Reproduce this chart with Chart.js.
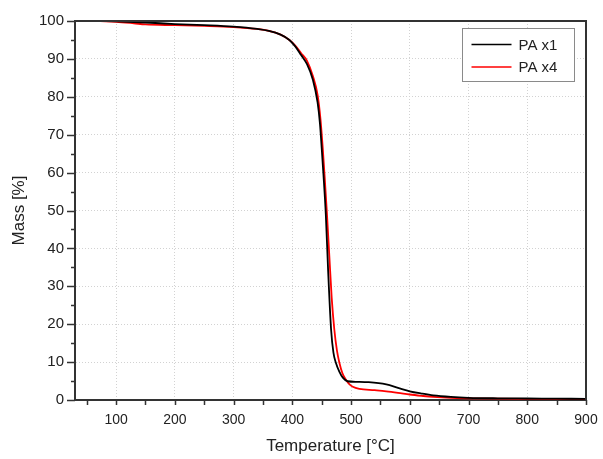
<!DOCTYPE html>
<html>
<head>
<meta charset="utf-8">
<script src="https://cdn.jsdelivr.net/npm/chart.js@4.4.0/dist/chart.umd.min.js"></script>
<style>
  html, body { margin: 0; padding: 0; background: #fff; }
  #chart { display: block; }
</style>
</head>
<body>
<canvas id="chart" width="603" height="459"></canvas>
<script>
// PA x1 (black)
var tempX1 = [73, 100, 150, 200, 250, 300, 340, 360, 380, 395, 405, 415, 425, 435, 443, 447, 450, 453, 457, 461, 466, 470, 474, 480, 486, 494, 510, 530, 560, 580, 600, 620, 640, 670, 700, 750, 800, 850, 900];
var massX1 = [100, 99.9, 99.6, 99.2, 98.9, 98.5, 97.9, 97.4, 96.4, 95, 93.3, 91, 88.6, 84.5, 78.5, 73, 66.5, 59.5, 49, 34, 18.6, 12.5, 9.9, 7.5, 5.9, 4.95, 4.8, 4.7, 4.1, 3.2, 2.3, 1.7, 1.2, 0.8, 0.58, 0.45, 0.4, 0.35, 0.3];

// PA x4 (red)
var tempX4 = [73, 100, 130, 150, 200, 250, 300, 340, 360, 380, 395, 405, 415, 425, 435, 443, 448, 452, 455, 459, 463, 467, 471.5, 476, 480, 485, 491, 497, 503, 514, 540, 560, 580, 600, 620, 640, 670, 700, 750, 800, 850, 900];
var massX4 = [100, 99.8, 99.4, 99.1, 98.9, 98.7, 98.4, 97.9, 97.4, 96.4, 95, 93.5, 91.5, 89.5, 85.5, 80.5, 74, 66, 59, 49, 38, 27, 18.6, 13, 9.9, 7.2, 5.4, 4.2, 3.5, 2.95, 2.6, 2.3, 1.9, 1.45, 1.1, 0.8, 0.55, 0.45, 0.35, 0.3, 0.3, 0.3];

var xTickValues = [100, 200, 300, 400, 500, 600, 700, 800, 900];
var xMinorTicks = [50, 150, 250, 350, 450, 550, 650, 750, 850];
var yTickValues = [0, 10, 20, 30, 40, 50, 60, 70, 80, 90, 100];
var yMinorTicks = [5, 15, 25, 35, 45, 55, 65, 75, 85, 95];

var FONT = "'Liberation Sans', Arial, sans-serif";
var AXIS = '#333';

function toPoints(xs, ys) {
    var pts = [];
    for (var i = 0; i < xs.length; i++) pts.push({x: xs[i], y: ys[i]});
    return pts;
}

// tick marks, top/right frame and the boxed legend inside the plot
var framePlugin = {
    id: 'frame',
    afterDraw: function (chart) {
        var ctx = chart.ctx, a = chart.chartArea;
        var xs = chart.scales.x, ys = chart.scales.y;
        ctx.save();
        ctx.strokeStyle = AXIS;
        ctx.lineWidth = 2;
        ctx.beginPath();
        ctx.moveTo(a.left - 1, a.top);
        ctx.lineTo(a.right, a.top);
        ctx.lineTo(a.right, a.bottom);
        ctx.stroke();

        ctx.lineWidth = 1.5;
        ctx.beginPath();
        xTickValues.concat(xMinorTicks).forEach(function (v) {
            var px = Math.round(xs.getPixelForValue(v)) + 0.5;
            ctx.moveTo(px, a.bottom);
            ctx.lineTo(px, a.bottom + 5);
        });
        yTickValues.forEach(function (v) {
            var py = Math.round(ys.getPixelForValue(v)) + 0.5;
            ctx.moveTo(a.left, py);
            ctx.lineTo(a.left - 8, py);
        });
        yMinorTicks.forEach(function (v) {
            var py = Math.round(ys.getPixelForValue(v)) + 0.5;
            ctx.moveTo(a.left, py);
            ctx.lineTo(a.left - 4, py);
        });
        ctx.stroke();

        // legend
        var bx = a.right - 123.5, by = a.top + 7.5, bw = 112, bh = 53;
        ctx.fillStyle = '#fff';
        ctx.fillRect(bx, by, bw, bh);
        ctx.strokeStyle = '#8a8a8a';
        ctx.lineWidth = 1;
        ctx.strokeRect(bx, by, bw, bh);
        ctx.font = '15px ' + FONT;
        ctx.textBaseline = 'middle';
        chart.data.datasets.forEach(function (ds, i) {
            var ly = by + 16 + i * 22.5;
            ctx.strokeStyle = ds.borderColor;
            ctx.lineWidth = 1.5;
            ctx.beginPath();
            ctx.moveTo(bx + 9, ly);
            ctx.lineTo(bx + 49, ly);
            ctx.stroke();
            ctx.fillStyle = '#222';
            ctx.fillText(ds.label, bx + 56, ly + 1);
        });
        ctx.restore();
    }
};

var ctx = document.getElementById('chart').getContext('2d');
var myChart = new Chart(ctx, {
    type: 'line',
    data: {
        datasets: [
            {
                label: 'PA x1',
                data: toPoints(tempX1, massX1),
                borderColor: '#000000',
                borderWidth: 1.8,
                pointRadius: 0,
                cubicInterpolationMode: 'monotone',
                fill: false
            },
            {
                label: 'PA x4',
                data: toPoints(tempX4, massX4),
                borderColor: '#ff0000',
                borderWidth: 1.8,
                pointRadius: 0,
                cubicInterpolationMode: 'monotone',
                fill: false
            }
        ]
    },
    options: {
        responsive: false,
        animation: false,
        layout: { padding: { top: 21, right: 17, left: 0, bottom: 0 } },
        plugins: {
            legend: { display: false },
            tooltip: { enabled: false }
        },
        scales: {
            x: {
                type: 'linear',
                min: 30,
                max: 900,
                afterBuildTicks: function (s) {
                    s.ticks = xTickValues.map(function (v) { return {value: v}; });
                },
                afterFit: function (s) {
                    s.height = 59;
                    s.paddingLeft = 0;
                    s.paddingRight = 0;
                },
                ticks: {
                    padding: 12,
                    autoSkip: false,
                    maxRotation: 0,
                    color: '#222',
                    font: { family: FONT, size: 14 }
                },
                grid: {
                    drawTicks: false,
                    lineWidth: 1,
                    color: function (c) {
                        return (c.tick && c.tick.value === 900) ? 'rgba(0,0,0,0)' : '#d2d2d2';
                    }
                },
                border: { display: true, color: AXIS, width: 2, dash: [1, 2] },
                title: {
                    display: true,
                    text: 'Temperature [°C]',
                    color: '#222',
                    font: { family: FONT, size: 17 },
                    padding: { top: 0, bottom: 2 }
                }
            },
            y: {
                type: 'linear',
                min: 0,
                max: 100,
                afterBuildTicks: function (s) {
                    s.ticks = yTickValues.map(function (v) { return {value: v}; });
                },
                afterFit: function (s) {
                    s.width = 75;
                    s.paddingTop = 0;
                    s.paddingBottom = 0;
                },
                ticks: {
                    padding: 11,
                    color: '#222',
                    font: { family: FONT, size: 15 }
                },
                grid: {
                    drawTicks: false,
                    lineWidth: 1,
                    color: function (c) {
                        var v = c.tick ? c.tick.value : null;
                        return (v === 0 || v === 100) ? 'rgba(0,0,0,0)' : '#d2d2d2';
                    }
                },
                border: { display: true, color: AXIS, width: 2, dash: [1, 2] },
                title: {
                    display: true,
                    text: 'Mass [%]',
                    color: '#222',
                    font: { family: FONT, size: 17 },
                    padding: { top: 9, bottom: 0 }
                }
            }
        }
    },
    plugins: [framePlugin]
});
</script>
</body>
</html>
